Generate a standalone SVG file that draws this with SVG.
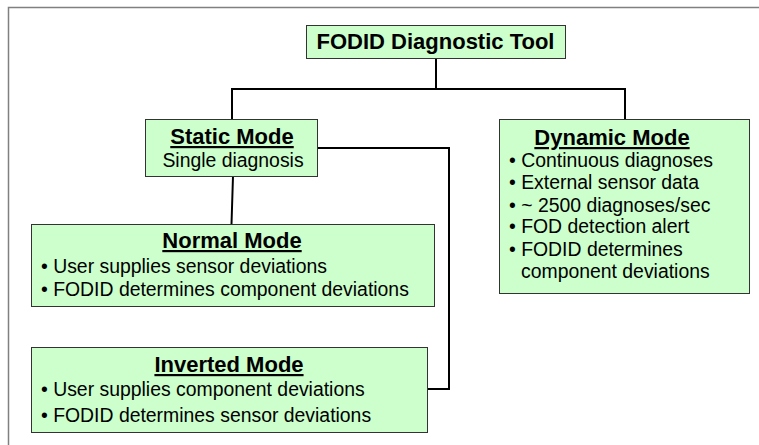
<svg xmlns="http://www.w3.org/2000/svg" width="759" height="445" viewBox="0 0 759 445">
<style>
.box{fill:#ccffcc;stroke:#333333;stroke-width:1}
.t{font-family:"Liberation Sans",Arial,sans-serif;font-size:19.4px;fill:#000}
.b{font-weight:bold;text-decoration:underline;font-size:22px}
.h{font-weight:bold;font-size:22px}
.c{stroke:#000;stroke-width:2;fill:none}
.f{stroke:#808080;stroke-width:1.5;fill:none}
</style>
<rect width="759" height="445" fill="#fff"/>
<g id="frame"><path class="f" d="M8.5,445 V7.5 H759"/></g>
<g id="connectors">
<path class="c" d="M436,58 V89 M231,89 H626 M232,88 V119 M625,88 V119"/>
<path class="c" d="M233,176 L231.5,224"/>
<path class="c" d="M317,148 H449 V389 H428"/>
</g>
<g id="root">
<rect class="box" x="306.5" y="25.5" width="259" height="33"/>
<text class="t h" x="435.5" y="49" text-anchor="middle">FODID Diagnostic Tool</text>
</g>
<g id="static">
<rect class="box" x="145.5" y="119.5" width="172" height="57"/>
<text class="t b" x="232" y="144" text-anchor="middle">Static Mode</text>
<text class="t" x="233" y="167" text-anchor="middle">Single diagnosis</text>
</g>
<g id="normal">
<rect class="box" x="31.5" y="224.5" width="403" height="82"/>
<text class="t b" x="232" y="248" text-anchor="middle">Normal Mode</text>
<text class="t" x="41" y="273">• User supplies sensor deviations</text>
<text class="t" x="41" y="296">• FODID determines component deviations</text>
</g>
<g id="inverted">
<rect class="box" x="31.5" y="347.5" width="396" height="85"/>
<text class="t b" x="229" y="372" text-anchor="middle">Inverted Mode</text>
<text class="t" x="41" y="396">• User supplies component deviations</text>
<text class="t" x="41" y="422">• FODID determines sensor deviations</text>
</g>
<g id="dynamic">
<rect class="box" x="499.5" y="119.5" width="250" height="174"/>
<text class="t b" x="612" y="145" text-anchor="middle">Dynamic Mode</text>
<text class="t" x="509" y="167">• Continuous diagnoses</text>
<text class="t" x="509" y="189">• External sensor data</text>
<text class="t" x="509" y="212">• ~ 2500 diagnoses/sec</text>
<text class="t" x="509" y="233">• FOD detection alert</text>
<text class="t" x="509" y="256">• FODID determines</text>
<text class="t" x="521" y="278">component deviations</text>
</g>
</svg>
